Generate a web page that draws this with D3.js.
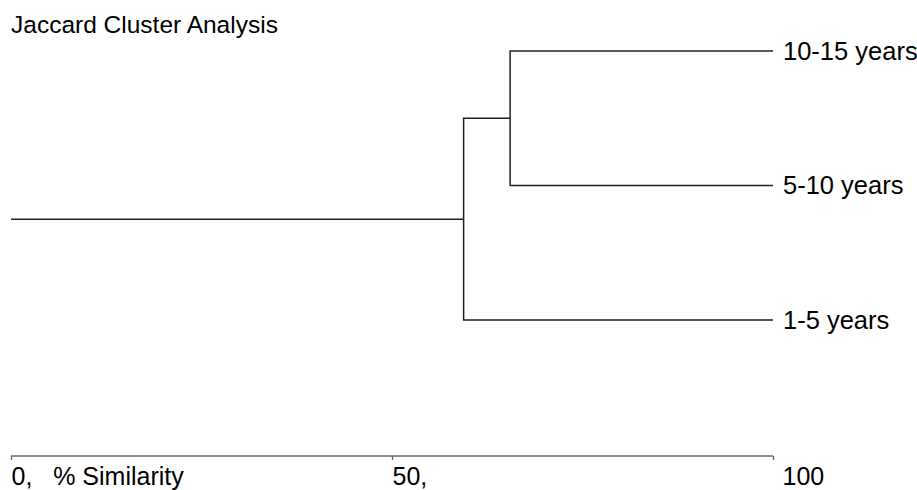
<!DOCTYPE html>
<html lang="en">
<head>
    <meta charset="UTF-8">
    <title>Jaccard Cluster Analysis</title>
    <script src="https://d3js.org/d3.v7.min.js"></script>
    <style>
        body { margin: 0; background: #fff; }
        text { font-family: "Liberation Sans", Arial, sans-serif; fill: #000; }
        .link { fill: none; stroke: #222; stroke-width: 1.5; }
        .axis path, .axis line { stroke: #666; stroke-width: 1.3; }
        .axis text { font-size: 25px; white-space: pre; }
    </style>
</head>
<body>
    <svg width="917" height="490"></svg>
    <script>
        const leafLabels = ["10-15 years", "5-10 years", "1-5 years"];
        // similarity (%) at which groups join: first 10-15 with 5-10, then that pair with 1-5
        const mergeSimilarity = [65.5, 59.4];
        const rootSimilarity = 0;
        const tickValues = [0, 50, 100];
        const tickLabels = ["0,   % Similarity", "50,", "100"];

        const treeData = {
            sim: mergeSimilarity[1],
            children: [
                { sim: mergeSimilarity[0], children: [
                    { name: leafLabels[0], sim: 100 },
                    { name: leafLabels[1], sim: 100 }
                ]},
                { name: leafLabels[2], sim: 100 }
            ]
        };

        const svg = d3.select("svg");

        const x = d3.scaleLinear().domain([0, 100]).range([11, 773]);
        const y = d3.scalePoint().domain(leafLabels).range([51, 320]);

        const root = d3.hierarchy(treeData);
        root.eachAfter(n => {
            n.px = x(n.data.sim);
            n.py = n.children ? d3.mean(n.children, c => c.py) : y(n.data.name);
        });

        svg.append("text")
            .attr("x", 11)
            .attr("y", 33)
            .style("font-size", "24.5px")
            .text("Jaccard Cluster Analysis");

        svg.selectAll(".link")
            .data(root.links())
            .enter().append("path")
            .attr("class", "link")
            .attr("d", d => `M${d.source.px},${d.source.py}V${d.target.py}H${d.target.px}`);

        svg.append("path")
            .attr("class", "link")
            .attr("d", `M${x(rootSimilarity)},${root.py}H${root.px}`);

        svg.selectAll(".leaf")
            .data(root.leaves())
            .enter().append("text")
            .attr("class", "leaf")
            .attr("x", d => d.px + 10)
            .attr("y", d => d.py)
            .attr("dy", "0.35em")
            .style("font-size", "25.5px")
            .text(d => d.data.name);

        const axis = svg.append("g")
            .attr("class", "axis")
            .attr("transform", "translate(0,456)")
            .call(d3.axisBottom(x)
                .tickValues(tickValues)
                .tickSize(4)
                .tickSizeOuter(0)
                .tickFormat((d, i) => tickLabels[i]));

        axis.select(".domain").attr("d", `M${x(0)},0H${x(100)}`);
        axis.selectAll(".tick text")
            .attr("y", 29)
            .attr("dy", 0)
            .attr("text-anchor", "start")
            .attr("fill", "#000")
            .style("font-family", "Liberation Sans, Arial, sans-serif")
            .attr("dx", (d, i) => i === tickValues.length - 1 ? 9 : 0);
    </script>
</body>
</html>
